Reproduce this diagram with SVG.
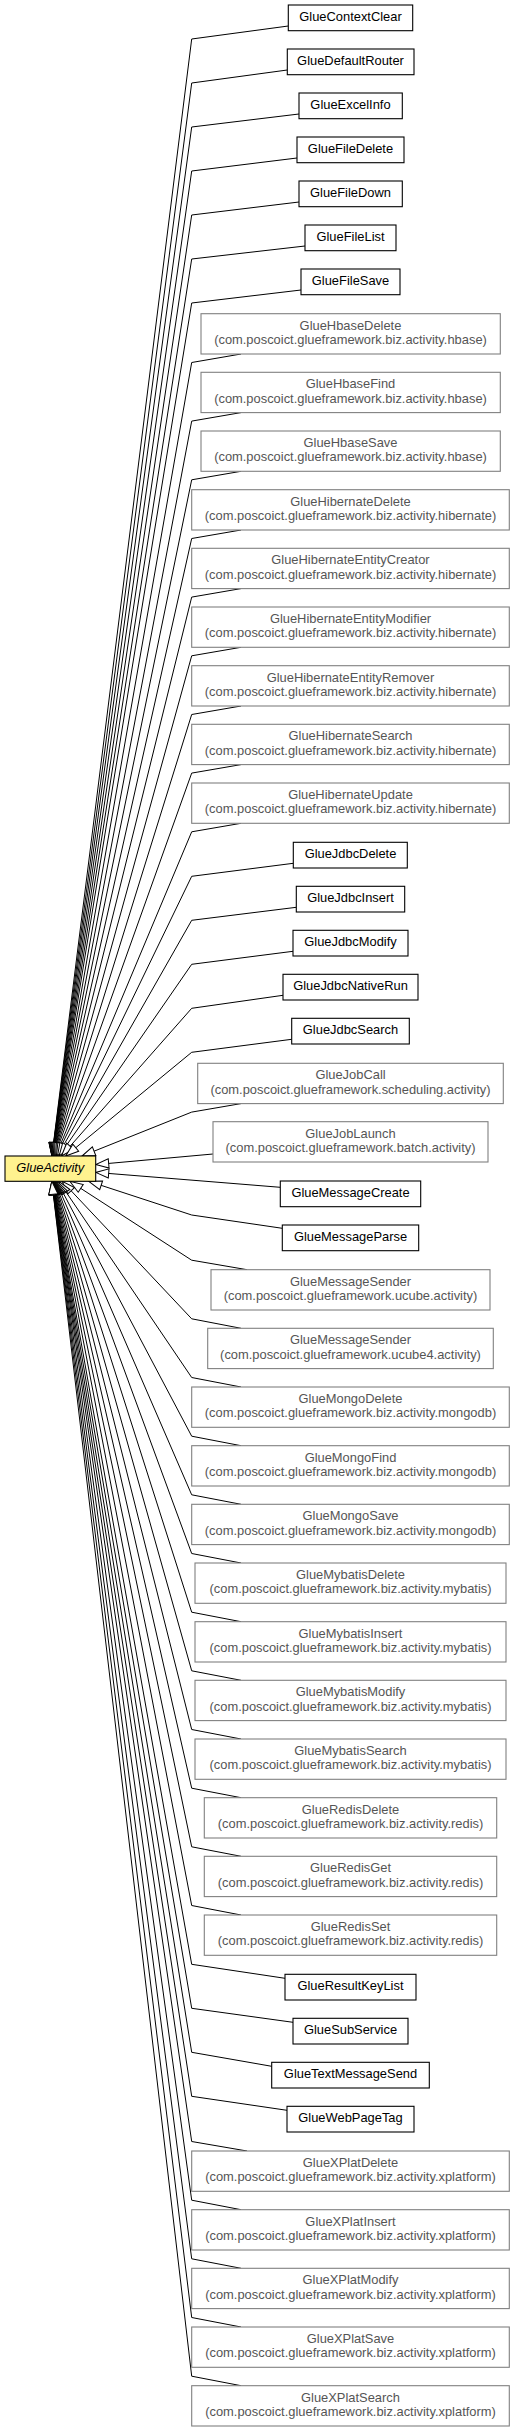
<svg xmlns="http://www.w3.org/2000/svg" width="515" height="2431" viewBox="0 0 515 2431">
<style>
.bg{fill:#fff}
.s rect{fill:#fff;stroke:#000;stroke-width:1.1}
.d rect{fill:#fff;stroke:#808080;stroke-width:1.1}
.r rect{fill:#fff28f;stroke:#000;stroke-width:1.1}
text{font-family:"Liberation Sans",Arial,sans-serif;font-size:12.9px;text-anchor:middle}
.s text{fill:#000}
.d text{fill:#555}
.r text{fill:#000;font-style:italic}
#edges path{fill:none;stroke:#000;stroke-width:1;marker-end:url(#tri)}
</style>
<defs>
<marker id="tri" markerUnits="userSpaceOnUse" viewBox="-1 -6 15 12" markerWidth="15" markerHeight="12" refX="13" refY="0" orient="auto" overflow="visible">
<path d="M13,0 L0,-4.6 L0,4.6 Z" fill="#fff" stroke="#000" stroke-width="1"/>
</marker>
</defs>
<rect class="bg" x="0" y="0" width="515" height="2431"/>
<g id="edges">
<path d="M288.3,26 L191.7,39 L51.9,1156"/>
<path d="M287.3,70 L191.7,83 L52,1156"/>
<path d="M299,114 L191.7,127 L52,1156"/>
<path d="M297,158 L191.7,171 L52.1,1156"/>
<path d="M299,202 L191.7,215 L52.2,1156"/>
<path d="M305,246 L191.7,259 L52.3,1156"/>
<path d="M301,290 L191.7,303 L52.4,1156"/>
<path d="M241,354 L191.7,362.5 L52.5,1156"/>
<path d="M241,412.6 L191.7,421.1 L52.7,1156"/>
<path d="M241,471.3 L191.7,479.8 L52.9,1156"/>
<path d="M241,530 L191.7,538.5 L53.2,1156"/>
<path d="M241,588.6 L191.7,597.1 L53.4,1156"/>
<path d="M241,647.3 L191.7,655.8 L53.8,1156"/>
<path d="M241,706 L191.7,714.5 L54.3,1156"/>
<path d="M241,764.6 L191.7,773.1 L54.8,1156"/>
<path d="M241,823.3 L191.7,831.8 L55.6,1156"/>
<path d="M293.3,863.3 L191.7,876.3 L56.4,1156"/>
<path d="M296.3,907.3 L191.7,920.3 L57.5,1156"/>
<path d="M293,951.3 L191.7,964.3 L59.1,1156"/>
<path d="M283,995.3 L191.7,1008.3 L61.5,1156"/>
<path d="M291.7,1039.3 L191.7,1052.3 L65.7,1156"/>
<path d="M241,1103.6 L191.7,1112.1 L82,1156"/>
<path d="M213,1154 L95.7,1164.6"/>
<path d="M280.3,1187.3 L95.7,1172.4"/>
<path d="M282.3,1228.3 L191.7,1215 L88.8,1181.3"/>
<path d="M247,1269.7 L191.7,1260.2 L69.8,1181.3"/>
<path d="M241,1328.3 L191.7,1318.8 L62.2,1181.3"/>
<path d="M241,1387 L191.7,1377.5 L58.8,1181.3"/>
<path d="M241,1445.7 L191.7,1436.2 L57,1181.3"/>
<path d="M241,1504.3 L191.7,1494.8 L55.8,1181.3"/>
<path d="M241,1563 L191.7,1553.5 L54.9,1181.3"/>
<path d="M241,1621.7 L191.7,1612.2 L54.3,1181.3"/>
<path d="M241,1680.3 L191.7,1670.8 L53.8,1181.3"/>
<path d="M241,1739 L191.7,1729.5 L53.5,1181.3"/>
<path d="M241,1797.7 L191.7,1788.2 L53.2,1181.3"/>
<path d="M241,1856.3 L191.7,1846.8 L52.9,1181.3"/>
<path d="M241,1915 L191.7,1905.5 L52.7,1181.3"/>
<path d="M285,1978.3 L191.7,1964.3 L52.5,1181.3"/>
<path d="M293,2022.3 L191.7,2008.3 L52.4,1181.3"/>
<path d="M271.7,2066.3 L191.7,2052.3 L52.3,1181.3"/>
<path d="M287,2110.3 L191.7,2096.3 L52.2,1181.3"/>
<path d="M247,2151 L191.7,2141.5 L52.1,1181.3"/>
<path d="M241,2209.7 L191.7,2200.2 L52,1181.3"/>
<path d="M241,2268.3 L191.7,2258.8 L51.9,1181.3"/>
<path d="M241,2327 L191.7,2317.5 L51.85,1181.3"/>
<path d="M241,2385.7 L191.7,2376.2 L51.8,1181.3"/>
</g>
<g id="GlueActivity" class="r"><rect x="5" y="1156" width="90.7" height="25.3"/><text x="50.3" y="1171.5">GlueActivity</text></g>
<g id="GlueContextClear" class="s"><rect x="288.3" y="5" width="124.4" height="25.7"/><text x="350.5" y="20.7">GlueContextClear</text></g>
<g id="GlueDefaultRouter" class="s"><rect x="287.3" y="49" width="126.7" height="25.7"/><text x="350.5" y="64.7">GlueDefaultRouter</text></g>
<g id="GlueExcelInfo" class="s"><rect x="299" y="93" width="103.3" height="25.7"/><text x="350.5" y="108.7">GlueExcelInfo</text></g>
<g id="GlueFileDelete" class="s"><rect x="297" y="137" width="107" height="25.7"/><text x="350.5" y="152.7">GlueFileDelete</text></g>
<g id="GlueFileDown" class="s"><rect x="299" y="181" width="103.3" height="25.7"/><text x="350.5" y="196.7">GlueFileDown</text></g>
<g id="GlueFileList" class="s"><rect x="305" y="225" width="91" height="25.7"/><text x="350.5" y="240.7">GlueFileList</text></g>
<g id="GlueFileSave" class="s"><rect x="301" y="269" width="99" height="25.7"/><text x="350.5" y="284.7">GlueFileSave</text></g>
<g id="GlueHbaseDelete" class="d"><rect x="201" y="313.7" width="299.3" height="40.3"/><text x="350.5" y="329.5">GlueHbaseDelete</text><text x="350.5" y="344.1">(com.poscoict.glueframework.biz.activity.hbase)</text></g>
<g id="GlueHbaseFind" class="d"><rect x="201" y="372.3" width="299.3" height="40.3"/><text x="350.5" y="388.1">GlueHbaseFind</text><text x="350.5" y="402.7">(com.poscoict.glueframework.biz.activity.hbase)</text></g>
<g id="GlueHbaseSave" class="d"><rect x="201" y="431" width="299.3" height="40.3"/><text x="350.5" y="446.8">GlueHbaseSave</text><text x="350.5" y="461.4">(com.poscoict.glueframework.biz.activity.hbase)</text></g>
<g id="GlueHibernateDelete" class="d"><rect x="191.7" y="489.7" width="317.6" height="40.3"/><text x="350.5" y="505.5">GlueHibernateDelete</text><text x="350.5" y="520.1">(com.poscoict.glueframework.biz.activity.hibernate)</text></g>
<g id="GlueHibernateEntityCreator" class="d"><rect x="191.7" y="548.3" width="317.6" height="40.3"/><text x="350.5" y="564.1">GlueHibernateEntityCreator</text><text x="350.5" y="578.7">(com.poscoict.glueframework.biz.activity.hibernate)</text></g>
<g id="GlueHibernateEntityModifier" class="d"><rect x="191.7" y="607" width="317.6" height="40.3"/><text x="350.5" y="622.8">GlueHibernateEntityModifier</text><text x="350.5" y="637.4">(com.poscoict.glueframework.biz.activity.hibernate)</text></g>
<g id="GlueHibernateEntityRemover" class="d"><rect x="191.7" y="665.7" width="317.6" height="40.3"/><text x="350.5" y="681.5">GlueHibernateEntityRemover</text><text x="350.5" y="696.1">(com.poscoict.glueframework.biz.activity.hibernate)</text></g>
<g id="GlueHibernateSearch" class="d"><rect x="191.7" y="724.3" width="317.6" height="40.3"/><text x="350.5" y="740.1">GlueHibernateSearch</text><text x="350.5" y="754.7">(com.poscoict.glueframework.biz.activity.hibernate)</text></g>
<g id="GlueHibernateUpdate" class="d"><rect x="191.7" y="783" width="317.6" height="40.3"/><text x="350.5" y="798.8">GlueHibernateUpdate</text><text x="350.5" y="813.4">(com.poscoict.glueframework.biz.activity.hibernate)</text></g>
<g id="GlueJdbcDelete" class="s"><rect x="293.3" y="842.3" width="114" height="25.7"/><text x="350.5" y="858">GlueJdbcDelete</text></g>
<g id="GlueJdbcInsert" class="s"><rect x="296.3" y="886.3" width="108.4" height="25.7"/><text x="350.5" y="902">GlueJdbcInsert</text></g>
<g id="GlueJdbcModify" class="s"><rect x="293" y="930.3" width="115" height="25.7"/><text x="350.5" y="946">GlueJdbcModify</text></g>
<g id="GlueJdbcNativeRun" class="s"><rect x="283" y="974.3" width="135" height="25.7"/><text x="350.5" y="990">GlueJdbcNativeRun</text></g>
<g id="GlueJdbcSearch" class="s"><rect x="291.7" y="1018.3" width="117.6" height="25.7"/><text x="350.5" y="1034">GlueJdbcSearch</text></g>
<g id="GlueJobCall" class="d"><rect x="197.7" y="1063.3" width="305.6" height="40.3"/><text x="350.5" y="1079.1">GlueJobCall</text><text x="350.5" y="1093.7">(com.poscoict.glueframework.scheduling.activity)</text></g>
<g id="GlueJobLaunch" class="d"><rect x="213" y="1121.7" width="275" height="40.3"/><text x="350.5" y="1137.5">GlueJobLaunch</text><text x="350.5" y="1152.1">(com.poscoict.glueframework.batch.activity)</text></g>
<g id="GlueMessageCreate" class="s"><rect x="280.3" y="1181" width="140.4" height="25.7"/><text x="350.5" y="1196.7">GlueMessageCreate</text></g>
<g id="GlueMessageParse" class="s"><rect x="282.3" y="1225" width="136.4" height="25.7"/><text x="350.5" y="1240.7">GlueMessageParse</text></g>
<g id="GlueMessageSender_ucube" class="d"><rect x="211" y="1269.7" width="279" height="40.3"/><text x="350.5" y="1285.5">GlueMessageSender</text><text x="350.5" y="1300.1">(com.poscoict.glueframework.ucube.activity)</text></g>
<g id="GlueMessageSender_ucube4" class="d"><rect x="207.7" y="1328.3" width="285.6" height="40.3"/><text x="350.5" y="1344.1">GlueMessageSender</text><text x="350.5" y="1358.7">(com.poscoict.glueframework.ucube4.activity)</text></g>
<g id="GlueMongoDelete" class="d"><rect x="191.7" y="1387" width="317.6" height="40.3"/><text x="350.5" y="1402.8">GlueMongoDelete</text><text x="350.5" y="1417.4">(com.poscoict.glueframework.biz.activity.mongodb)</text></g>
<g id="GlueMongoFind" class="d"><rect x="191.7" y="1445.7" width="317.6" height="40.3"/><text x="350.5" y="1461.5">GlueMongoFind</text><text x="350.5" y="1476.1">(com.poscoict.glueframework.biz.activity.mongodb)</text></g>
<g id="GlueMongoSave" class="d"><rect x="191.7" y="1504.3" width="317.6" height="40.3"/><text x="350.5" y="1520.1">GlueMongoSave</text><text x="350.5" y="1534.7">(com.poscoict.glueframework.biz.activity.mongodb)</text></g>
<g id="GlueMybatisDelete" class="d"><rect x="195" y="1563" width="311" height="40.3"/><text x="350.5" y="1578.8">GlueMybatisDelete</text><text x="350.5" y="1593.4">(com.poscoict.glueframework.biz.activity.mybatis)</text></g>
<g id="GlueMybatisInsert" class="d"><rect x="195" y="1621.7" width="311" height="40.3"/><text x="350.5" y="1637.5">GlueMybatisInsert</text><text x="350.5" y="1652.1">(com.poscoict.glueframework.biz.activity.mybatis)</text></g>
<g id="GlueMybatisModify" class="d"><rect x="195" y="1680.3" width="311" height="40.3"/><text x="350.5" y="1696.1">GlueMybatisModify</text><text x="350.5" y="1710.7">(com.poscoict.glueframework.biz.activity.mybatis)</text></g>
<g id="GlueMybatisSearch" class="d"><rect x="195" y="1739" width="311" height="40.3"/><text x="350.5" y="1754.8">GlueMybatisSearch</text><text x="350.5" y="1769.4">(com.poscoict.glueframework.biz.activity.mybatis)</text></g>
<g id="GlueRedisDelete" class="d"><rect x="204.3" y="1797.7" width="292.4" height="40.3"/><text x="350.5" y="1813.5">GlueRedisDelete</text><text x="350.5" y="1828.1">(com.poscoict.glueframework.biz.activity.redis)</text></g>
<g id="GlueRedisGet" class="d"><rect x="204.3" y="1856.3" width="292.4" height="40.3"/><text x="350.5" y="1872.1">GlueRedisGet</text><text x="350.5" y="1886.7">(com.poscoict.glueframework.biz.activity.redis)</text></g>
<g id="GlueRedisSet" class="d"><rect x="204.3" y="1915" width="292.4" height="40.3"/><text x="350.5" y="1930.8">GlueRedisSet</text><text x="350.5" y="1945.4">(com.poscoict.glueframework.biz.activity.redis)</text></g>
<g id="GlueResultKeyList" class="s"><rect x="285" y="1974.3" width="131" height="25.7"/><text x="350.5" y="1990">GlueResultKeyList</text></g>
<g id="GlueSubService" class="s"><rect x="293" y="2018.3" width="115" height="25.7"/><text x="350.5" y="2034">GlueSubService</text></g>
<g id="GlueTextMessageSend" class="s"><rect x="271.7" y="2062.3" width="157.6" height="25.7"/><text x="350.5" y="2078">GlueTextMessageSend</text></g>
<g id="GlueWebPageTag" class="s"><rect x="287" y="2106.3" width="127" height="25.7"/><text x="350.5" y="2122">GlueWebPageTag</text></g>
<g id="GlueXPlatDelete" class="d"><rect x="191.7" y="2151" width="317.6" height="40.3"/><text x="350.5" y="2166.8">GlueXPlatDelete</text><text x="350.5" y="2181.4">(com.poscoict.glueframework.biz.activity.xplatform)</text></g>
<g id="GlueXPlatInsert" class="d"><rect x="191.7" y="2209.7" width="317.6" height="40.3"/><text x="350.5" y="2225.5">GlueXPlatInsert</text><text x="350.5" y="2240.1">(com.poscoict.glueframework.biz.activity.xplatform)</text></g>
<g id="GlueXPlatModify" class="d"><rect x="191.7" y="2268.3" width="317.6" height="40.3"/><text x="350.5" y="2284.1">GlueXPlatModify</text><text x="350.5" y="2298.7">(com.poscoict.glueframework.biz.activity.xplatform)</text></g>
<g id="GlueXPlatSave" class="d"><rect x="191.7" y="2327" width="317.6" height="40.3"/><text x="350.5" y="2342.8">GlueXPlatSave</text><text x="350.5" y="2357.4">(com.poscoict.glueframework.biz.activity.xplatform)</text></g>
<g id="GlueXPlatSearch" class="d"><rect x="191.7" y="2385.7" width="317.6" height="40.3"/><text x="350.5" y="2401.5">GlueXPlatSearch</text><text x="350.5" y="2416.1">(com.poscoict.glueframework.biz.activity.xplatform)</text></g>
</svg>
